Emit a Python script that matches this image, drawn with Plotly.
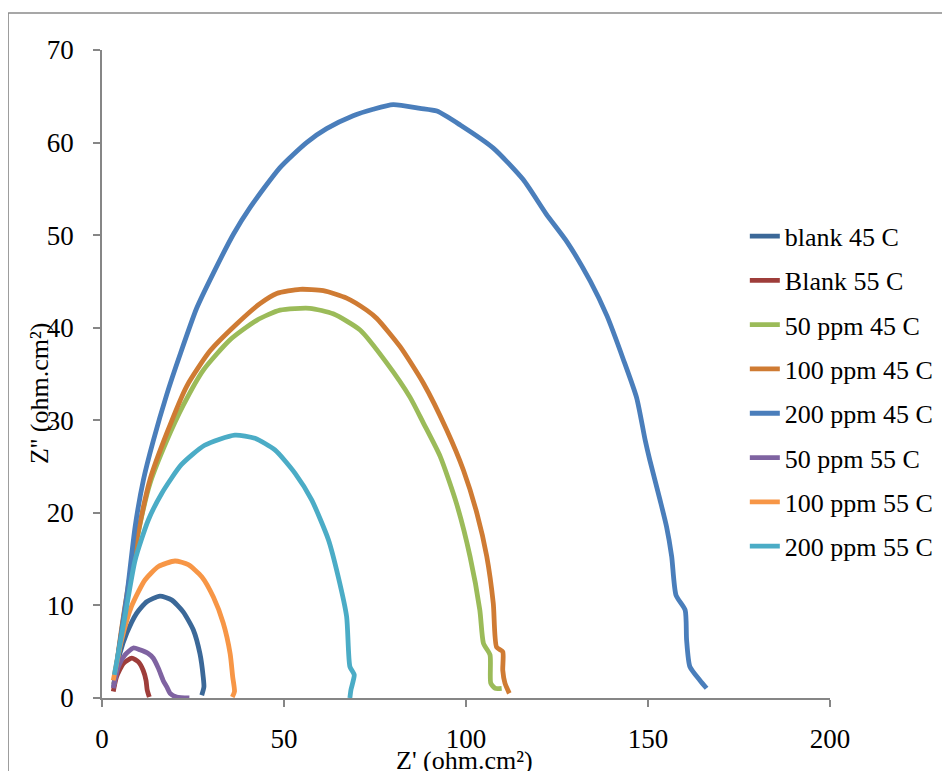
import plotly.graph_objects as go

# ---- data ----
series_names = ["blank 45 C", "Blank 55 C", "50 ppm 45 C", "100 ppm 45 C",
                "200 ppm 45 C", "50 ppm 55 C", "100 ppm 55 C", "200 ppm 55 C"]
series_colors = ["#3B6898", "#9E3D3A", "#9BBB59", "#CF7B33",
                 "#4A7EBB", "#7F63A1", "#F79646", "#4BACC6"]

blank45_x = [3.2, 3.6, 4.9, 6.8, 9.5, 12.3, 15.9, 19.1, 22.3, 25.1, 26.9, 27.8, 28.0, 27.4]
blank45_y = [1.2, 2.3, 4.8, 7.0, 9.15, 10.4, 11.0, 10.6, 9.3, 7.35, 4.8, 2.3, 1.2, 0.3]

blank55_x = [3.1, 4.0, 5.9, 8.2, 10.0, 11.3, 12.1, 12.4, 13.0]
blank55_y = [0.7, 2.3, 3.75, 4.3, 3.9, 3.0, 1.9, 0.9, 0.1]

ppm50_45_x = [3.3, 5.5, 8.6, 11.0, 13.2, 17.8, 22.3, 27.8, 35.2, 42.5, 48.9, 57.1, 63.5,
              70.9, 78.2, 84.6, 88.3, 92.9, 97.4, 101.1, 103.8, 104.8, 106.6, 106.8, 108.0, 109.8]
ppm50_45_y = [1.5, 7.5, 15.0, 19.8, 23.2, 27.8, 31.6, 35.4, 38.7, 40.8, 41.9, 42.1, 41.5,
              39.75, 36.2, 32.5, 29.7, 26.1, 21.0, 15.3, 9.5, 5.9, 4.65, 1.6, 1.05, 1.05]

ppm100_45_x = [3.3, 5.5, 8.6, 13.2, 17.8, 23.3, 29.7, 37.0, 43.4, 48.0, 54.4, 60.8, 67.2, 72.7,
               75.5, 81.9, 88.3, 94.7, 99.3, 103.0, 105.7, 107.5, 108.4, 110.1, 110.1, 110.7, 111.9]
ppm100_45_y = [1.5, 7.8, 15.2, 23.6, 28.6, 33.7, 37.5, 40.4, 42.6, 43.7, 44.15, 44.0, 43.2, 41.9,
               41.0, 37.95, 34.0, 28.95, 24.6, 19.95, 15.3, 10.2, 5.5, 5.0, 3.0, 1.6, 0.5]

ppm200_45_x = [3.3, 3.6, 6.8, 9.1, 11.4, 14.1, 17.8, 21.4, 26.0, 30.6, 36.1, 40.7, 48.9, 56.2,
               61.7, 69.0, 74.5, 80.0, 87.4, 92.0, 98.4, 107.5, 115.7, 122.0, 127.7, 134.1,
               138.7, 143.2, 146.9, 149.2, 150.5, 153.3, 155.1, 156.5, 157.7, 160.2, 160.6,
               161.5, 164.3, 166.1]
ppm200_45_y = [1.5, 2.5, 11.0, 18.5, 23.6, 27.8, 32.8, 37.05, 42.1, 45.9, 50.1, 53.0, 57.3, 60.0,
               61.5, 62.9, 63.6, 64.1, 63.7, 63.4, 61.9, 59.4, 56.0, 52.3, 49.3, 45.05,
               41.3, 36.6, 32.4, 27.9, 25.7, 21.4, 18.5, 15.3, 11.1, 9.5, 6.3,
               3.4, 1.9, 1.05]

ppm50_55_x = [3.1, 4.5, 6.3, 8.6, 10.4, 12.7, 14.1, 15.5, 16.8, 17.8, 18.7, 20.5, 24.0]
ppm50_55_y = [1.05, 3.4, 4.65, 5.4, 5.2, 4.8, 4.3, 3.2, 1.9, 1.2, 0.5, 0.1, 0.0]

ppm100_55_x = [3.1, 5.4, 8.1, 11.8, 15.5, 20.05, 23.7, 27.4, 30.6, 33.3, 35.2, 35.9, 36.4, 35.8]
ppm100_55_y = [1.9, 6.3, 9.9, 12.75, 14.2, 14.8, 14.4, 13.1, 10.9, 8.1, 4.8, 2.3, 0.7, 0.1]

ppm200_55_x = [3.4, 6.3, 9.1, 12.7, 16.4, 21.8, 28.2, 36.5, 42.0, 47.5, 53.0, 57.6, 62.2,
               64.9, 67.2, 68.1, 69.3, 68.4, 68.1]
ppm200_55_y = [2.5, 8.8, 14.9, 19.2, 22.1, 25.2, 27.3, 28.4, 28.05, 26.8, 24.3, 21.4, 17.1,
               13.1, 8.8, 3.4, 2.5, 0.9, 0.0]

x_ticks = [0, 50, 100, 150, 200]
y_ticks = [0, 10, 20, 30, 40, 50, 60, 70]

series_x = [blank45_x, blank55_x, ppm50_45_x, ppm100_45_x, ppm200_45_x, ppm50_55_x, ppm100_55_x, ppm200_55_x]
series_y = [blank45_y, blank55_y, ppm50_45_y, ppm100_45_y, ppm200_45_y, ppm50_55_y, ppm100_55_y, ppm200_55_y]

FONT = "Liberation Serif, Times New Roman, serif"
AXIS_GRAY = "#868686"

fig = go.Figure()
for name, color, xs, ys in zip(series_names, series_colors, series_x, series_y):
    fig.add_trace(go.Scatter(
        x=xs, y=ys, name=name, mode="lines", legendgroup=name,
        line=dict(color=color, width=4.8, shape="spline", smoothing=0.6),
        cliponaxis=False,
    ))

fig.update_layout(
    width=950, height=771,
    margin=dict(l=94, r=128, t=42, b=81),
    paper_bgcolor="white", plot_bgcolor="white",
    font=dict(family=FONT, size=26, color="black"),
    showlegend=True,
    legend=dict(
        x=0.883, xanchor="left", y=0.749, yanchor="top",
        font=dict(family=FONT, size=26, color="black"),
        traceorder="grouped", tracegroupgap=7.5,
        bgcolor="rgba(0,0,0,0)", itemwidth=30,
    ),
    xaxis=dict(
        range=[0, 200], tickvals=x_ticks, ticktext=[str(v) for v in x_ticks],
        showline=True, linecolor=AXIS_GRAY, linewidth=1.5,
        ticks="outside", ticklen=7, tickcolor=AXIS_GRAY, tickwidth=1.5,
        showgrid=False, zeroline=False, ticklabelstandoff=9,
        tickfont=dict(family=FONT, size=27, color="black"),
    ),
    yaxis=dict(
        range=[0, 70], tickvals=y_ticks, ticktext=[str(v) for v in y_ticks],
        showline=True, linecolor=AXIS_GRAY, linewidth=1.5,
        ticks="outside", ticklen=7, tickcolor=AXIS_GRAY, tickwidth=1.5,
        showgrid=False, zeroline=False, ticklabelstandoff=14,
        tickfont=dict(family=FONT, size=27, color="black"),
    ),
    annotations=[
        dict(text="Z' (ohm.cm²)", xref="paper", yref="paper", x=0.4986, y=-0.0957,
             xanchor="center", yanchor="middle", showarrow=False,
             font=dict(family=FONT, size=26, color="black")),
        dict(text="Z'' (ohm.cm²)", xref="paper", yref="paper", x=-0.0852, y=0.4707,
             xanchor="center", yanchor="middle", showarrow=False, textangle=-90,
             font=dict(family=FONT, size=26, color="black")),
    ],
    shapes=[
        dict(type="line", xref="paper", yref="paper", x0=-0.129, x1=-0.129, y0=-0.3, y1=1.0571,
             line=dict(color="#8A8A8A", width=1.5)),
        dict(type="line", xref="paper", yref="paper", x0=-0.129, x1=1.3, y0=1.0571, y1=1.0571,
             line=dict(color="#8A8A8A", width=1.5)),
    ],
)

fig.write_html("out.html")
